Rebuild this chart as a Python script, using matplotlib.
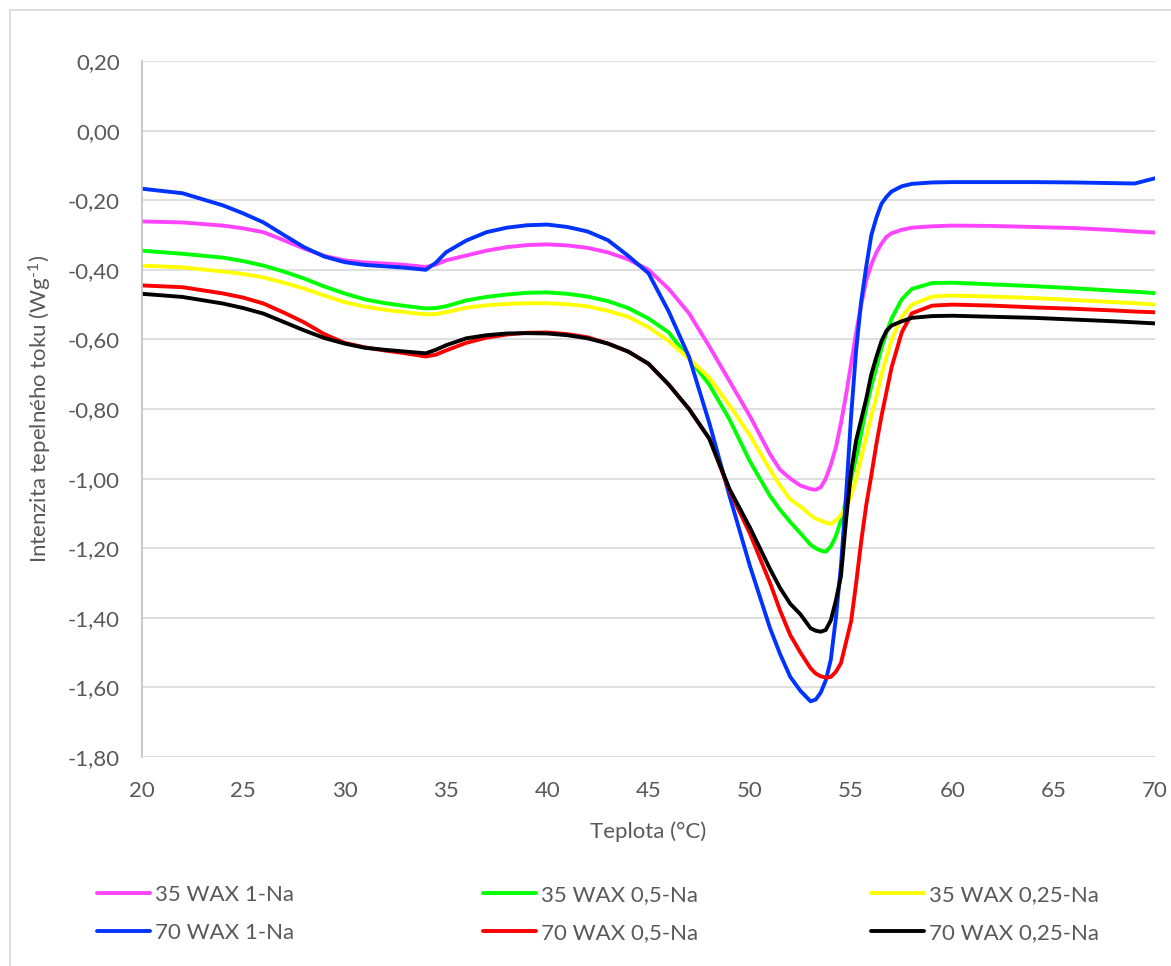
import matplotlib
matplotlib.use("Agg")
import matplotlib.pyplot as plt
from matplotlib.patches import Rectangle
from matplotlib.ticker import FuncFormatter, MultipleLocator

plt.rcParams['font.family'] = ['Lato', 'DejaVu Sans']
plt.rcParams['mathtext.fontset'] = 'custom'
plt.rcParams['mathtext.rm'] = 'Lato'
plt.rcParams['mathtext.it'] = 'Lato:italic'
plt.rcParams['mathtext.bf'] = 'Lato:bold'

# Temperature (°C)
temp = [20, 22, 24, 25, 26, 27, 28, 29, 30, 31,
        32, 33, 34, 34.5, 35, 36, 37, 38, 39, 40,
        41, 42, 43, 44, 45, 46, 47, 48, 49, 50,
        51, 51.5, 52, 52.5, 53, 53.25, 53.5, 53.75, 54, 54.25,
        54.5, 54.75, 55, 55.25, 55.5, 55.75, 56, 56.25, 56.5, 56.75,
        57, 57.5, 58, 59, 60, 62, 64, 66, 68, 69,
        70]

wax35_1 = [-0.261, -0.264, -0.273, -0.281, -0.292, -0.315, -0.339, -0.360, -0.373, -0.379,
           -0.382, -0.386, -0.392, -0.385, -0.373, -0.359, -0.345, -0.335, -0.329, -0.327,
           -0.330, -0.337, -0.350, -0.370, -0.400, -0.455, -0.525, -0.620, -0.720, -0.820,
           -0.930, -0.975, -1.000, -1.020, -1.030, -1.032, -1.025, -1.000, -0.960, -0.910,
           -0.840, -0.760, -0.670, -0.580, -0.500, -0.430, -0.385, -0.350, -0.325, -0.305,
           -0.295, -0.285, -0.279, -0.275, -0.273, -0.274, -0.277, -0.280, -0.286, -0.290,
           -0.293]
wax35_05 = [-0.345, -0.354, -0.365, -0.375, -0.388, -0.405, -0.425, -0.448, -0.468, -0.485,
            -0.496, -0.504, -0.511, -0.510, -0.505, -0.488, -0.478, -0.471, -0.466, -0.465,
            -0.469, -0.477, -0.490, -0.510, -0.540, -0.580, -0.655, -0.730, -0.830, -0.950,
            -1.050, -1.090, -1.125, -1.157, -1.190, -1.200, -1.207, -1.210, -1.195, -1.165,
            -1.120, -1.065, -1.000, -0.940, -0.870, -0.795, -0.735, -0.680, -0.625, -0.580,
            -0.540, -0.485, -0.455, -0.438, -0.437, -0.442, -0.447, -0.453, -0.460, -0.463,
            -0.467]
wax35_025 = [-0.388, -0.393, -0.405, -0.412, -0.422, -0.437, -0.454, -0.474, -0.493, -0.506,
             -0.515, -0.522, -0.528, -0.527, -0.522, -0.509, -0.502, -0.498, -0.496, -0.496,
             -0.499, -0.505, -0.518, -0.535, -0.565, -0.605, -0.655, -0.710, -0.790, -0.875,
             -0.975, -1.020, -1.060, -1.080, -1.105, -1.115, -1.120, -1.127, -1.130, -1.120,
             -1.105, -1.080, -1.050, -1.000, -0.940, -0.880, -0.820, -0.765, -0.700, -0.650,
             -0.600, -0.535, -0.500, -0.477, -0.474, -0.477, -0.481, -0.487, -0.493, -0.496,
             -0.500]
wax70_1 = [-0.167, -0.180, -0.215, -0.238, -0.264, -0.300, -0.335, -0.362, -0.378, -0.386,
           -0.390, -0.394, -0.400, -0.380, -0.350, -0.316, -0.292, -0.279, -0.272, -0.270,
           -0.277, -0.290, -0.315, -0.360, -0.410, -0.520, -0.650, -0.840, -1.050, -1.250,
           -1.430, -1.505, -1.570, -1.610, -1.640, -1.635, -1.615, -1.580, -1.520, -1.400,
           -1.250, -1.050, -0.820, -0.630, -0.490, -0.390, -0.300, -0.250, -0.210, -0.190,
           -0.175, -0.160, -0.153, -0.149, -0.148, -0.148, -0.148, -0.149, -0.151, -0.152,
           -0.137]
wax70_05 = [-0.445, -0.450, -0.468, -0.480, -0.497, -0.523, -0.551, -0.585, -0.610, -0.623,
            -0.632, -0.640, -0.649, -0.644, -0.632, -0.610, -0.595, -0.586, -0.581, -0.580,
            -0.585, -0.594, -0.612, -0.635, -0.670, -0.730, -0.800, -0.885, -1.035, -1.157,
            -1.300, -1.380, -1.450, -1.500, -1.545, -1.560, -1.568, -1.572, -1.570, -1.555,
            -1.530, -1.470, -1.410, -1.300, -1.180, -1.075, -0.990, -0.900, -0.820, -0.750,
            -0.680, -0.580, -0.525, -0.503, -0.500, -0.503, -0.508, -0.512, -0.517, -0.520,
            -0.522]
wax70_025 = [-0.469, -0.478, -0.497, -0.510, -0.526, -0.550, -0.574, -0.596, -0.612, -0.624,
             -0.630, -0.635, -0.640, -0.630, -0.617, -0.597, -0.588, -0.583, -0.582, -0.583,
             -0.588, -0.597, -0.612, -0.635, -0.670, -0.730, -0.800, -0.885, -1.030, -1.140,
             -1.260, -1.315, -1.360, -1.390, -1.430, -1.437, -1.440, -1.435, -1.407, -1.350,
             -1.280, -1.120, -0.980, -0.890, -0.830, -0.770, -0.700, -0.650, -0.605, -0.575,
             -0.560, -0.548, -0.538, -0.533, -0.532, -0.535, -0.538, -0.543, -0.548, -0.551,
             -0.554]

series_labels = ["35 WAX 1-Na", "35 WAX 0,5-Na", "35 WAX 0,25-Na",
                 "70 WAX 1-Na", "70 WAX 0,5-Na", "70 WAX 0,25-Na"]
series_values = [wax35_1, wax35_05, wax35_025, wax70_1, wax70_05, wax70_025]
colors = ["#FF44FF", "#00FF00", "#FFFF00", "#0033FF", "#FF0000", "#000000"]

x_label = "Teplota (°C)"
y_label = "Intenzita tepelného toku (Wg$^{\u20101}$)"

W, H = 1171, 966
FS = 16
fig = plt.figure(figsize=(W / 100, H / 100), dpi=100)
ax = fig.add_axes([142 / W, 1 - 757 / H, (1155 - 142) / W, (757 - 61) / H])

txt_col = "#595959"
lines = []
for lab, vals, c in zip(series_labels, series_values, colors):
    ln, = ax.plot(temp, vals, color=c, lw=2.8, label=lab, solid_joinstyle='round',
                  solid_capstyle='round')
    lines.append(ln)

ax.set_xlim(20, 70)
ax.set_ylim(-1.80, 0.20)
ax.xaxis.set_major_locator(MultipleLocator(5))
ax.yaxis.set_major_locator(MultipleLocator(0.2))
ax.yaxis.set_major_formatter(FuncFormatter(
    lambda v, p: f"{v:.2f}".replace(".", ",").replace("-0,00", "0,00")))
ax.xaxis.set_major_formatter(FuncFormatter(lambda v, p: f"{v:.0f}"))
ax.grid(axis='y', color="#d9d9d9", lw=1.2)
ax.set_axisbelow(True)
for s in ['top', 'right', 'bottom']:
    ax.spines[s].set_visible(False)
ax.spines['left'].set_color("#bfbfbf")
ax.spines['left'].set_linewidth(1.2)
ax.tick_params(axis='both', length=0, labelsize=FS, labelcolor=txt_col)
ax.tick_params(axis='y', pad=16)
ax.tick_params(axis='x', pad=17)
ax.set_xlabel(x_label, fontsize=FS, color=txt_col, labelpad=15)
ax.set_ylabel(y_label, fontsize=FS, color=txt_col, labelpad=10)

# outer chart border
fig.patches.append(Rectangle((9.5 / W, -0.05), 1.2, 1 - 9.5 / H + 0.05,
                             transform=fig.transFigure, fill=False,
                             edgecolor="#d9d9d9", lw=1.2))

col_x = [97, 483, 871]
for i in range(3):
    hs = [lines[i], lines[i + 3]]
    fig.legend(handles=hs, labels=[series_labels[i], series_labels[i + 3]],
               loc='center left', bbox_to_anchor=(col_x[i] / W, 1 - 914 / H),
               frameon=False, fontsize=FS, labelcolor=txt_col, borderpad=0,
               borderaxespad=0, handlelength=2.39, handletextpad=0.23,
               labelspacing=0.8)

fig.savefig("out.png", dpi=100)
